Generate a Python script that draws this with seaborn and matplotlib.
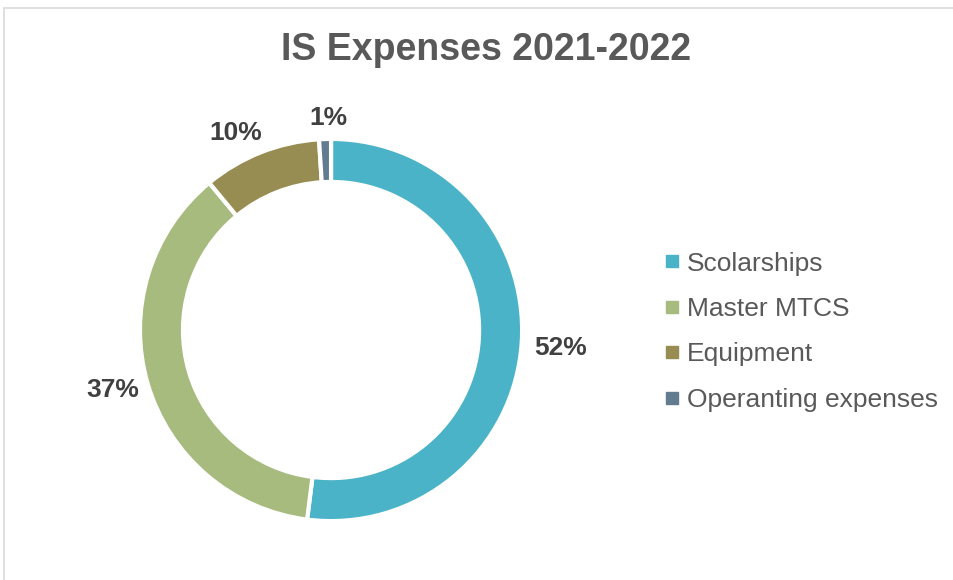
import matplotlib
matplotlib.use('Agg')
import matplotlib.pyplot as plt
import seaborn as sns
from matplotlib.patches import Rectangle

# data
categories = ['Scolarships', 'Master MTCS', 'Equipment', 'Operanting expenses']
shares = [52, 37, 10, 1]
colors = ['#4BB3C7', '#A7BB7F', '#978D52', '#627B8F']

sns.set_style('white')
plt.rcParams['font.family'] = ['Liberation Sans', 'DejaVu Sans']

fig = plt.figure(figsize=(9.54, 5.8), dpi=100)
# axes: 2.8 data units == 535 px, ring centred at (331, 330) px
ax = fig.add_axes([0.0666, -0.0302, 0.5608, 0.9224])

wedges, _ = ax.pie(shares, colors=colors, startangle=90, counterclock=False,
                   radius=1.0, wedgeprops=dict(width=0.225, edgecolor='white', linewidth=3))
ax.set_aspect('equal')
ax.set_xlim(-1.4, 1.4)
ax.set_ylim(-1.4, 1.4)

# percentage labels outside the ring
label_pos = [(1.204, -0.094), (-1.141, -0.314), (-0.497, 1.031), (-0.016, 1.11)]
for (x, y), v in zip(label_pos, shares):
    ax.text(x, y, f'{v}%', ha='center', va='center', fontsize=19,
            fontweight='bold', color='#404040')

fig.text(0.509, 1 - 50 / 580, 'IS Expenses 2021-2022', ha='center', va='center',
         fontsize=27, fontweight='bold', color='#595959')

handles = [plt.Line2D([0], [0], marker='s', linestyle='', markersize=8,
                      markerfacecolor=c, markeredgecolor=c) for c in colors]
fig.legend(handles, categories, loc='center left', bbox_to_anchor=(0.670, 0.428),
           frameon=False, fontsize=19, labelcolor='#595959', handletextpad=0.2,
           labelspacing=0.81, handlelength=0.7)

# chart border (top and left visible)
fig.patches.append(Rectangle((0.004, -0.1), 1.2, 1.086, transform=fig.transFigure,
                             fill=False, edgecolor='#D9D9D9', linewidth=1.2))

plt.savefig('out.png', dpi=100)
